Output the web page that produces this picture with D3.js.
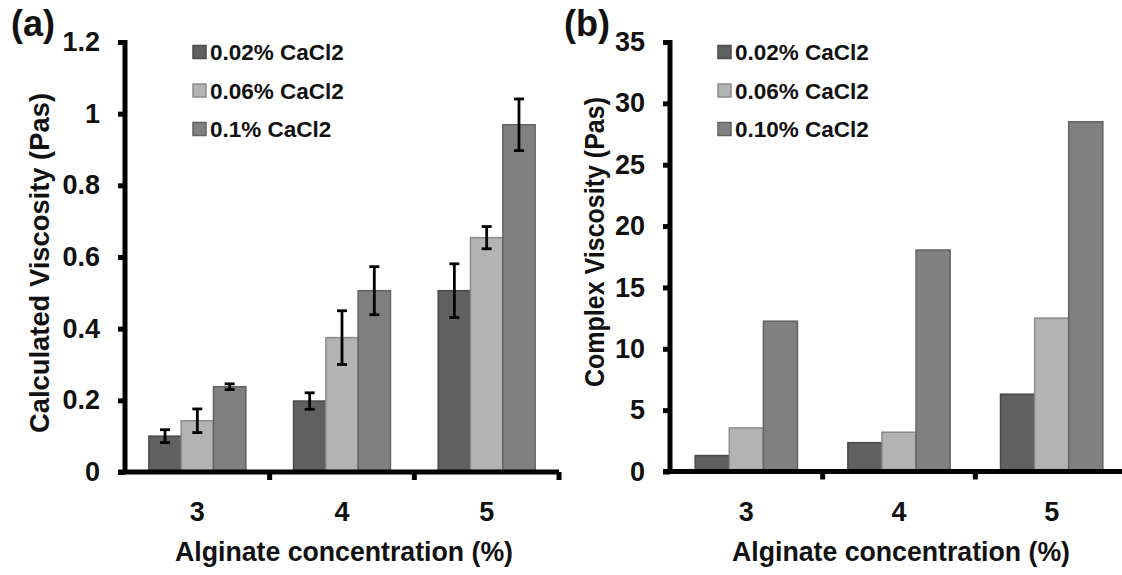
<!DOCTYPE html>
<html><head><meta charset="utf-8">
<script src="https://cdn.jsdelivr.net/npm/d3@7"></script>
<style>
html,body{margin:0;padding:0;background:#fff;}
svg{display:block;}
text{font-family:"Liberation Sans",Arial,sans-serif;font-weight:bold;fill:#111;}
</style></head>
<body>
<svg id="chart" width="1122" height="575"></svg>
<script>
// ---- data ----
const categories = ["3", "4", "5"];
const seriesA = ["0.02% CaCl2", "0.06% CaCl2", "0.1% CaCl2"];
const seriesB = ["0.02% CaCl2", "0.06% CaCl2", "0.10% CaCl2"];
const calcVisc002 = [0.10, 0.198, 0.506];
const calcVisc006 = [0.143, 0.375, 0.654];
const calcVisc010 = [0.238, 0.506, 0.969];
const calcErr002 = [0.018, 0.023, 0.075];
const calcErr006 = [0.033, 0.075, 0.031];
const calcErr010 = [0.008, 0.067, 0.072];
const complexVisc002 = [1.3, 2.35, 6.3];
const complexVisc006 = [3.55, 3.2, 12.5];
const complexVisc010 = [12.25, 18.05, 28.5];
const ticksA = [0, 0.2, 0.4, 0.6, 0.8, 1, 1.2];
const ticksB = [0, 5, 10, 15, 20, 25, 30, 35];

const fills = ["#606060", "#b3b3b3", "#808080"];
const strokes = ["#4a4a4a", "#8a8a8a", "#626262"];

const svg = d3.select("#chart");

function panel(cfg) {
  const g = svg.append("g");
  const y = d3.scaleLinear().domain([0, cfg.ymax]).range([cfg.y0, cfg.y1]);
  const x0 = d3.scaleBand().domain(categories).range([cfg.xl, cfg.xr]).paddingInner(0.33).paddingOuter(0.165);
  const x1 = d3.scaleBand().domain(d3.range(3)).range([0, x0.bandwidth()]);

  // bars
  cfg.values.forEach((vals, si) => {
    g.selectAll(null).data(vals).join("rect")
      .attr("x", (d, i) => x0(categories[i]) + x1(si))
      .attr("y", d => y(d))
      .attr("width", x1.bandwidth())
      .attr("height", d => y(0) - y(d))
      .attr("fill", fills[si])
      .attr("stroke", strokes[si])
      .attr("stroke-width", 1.5);
  });

  // error bars
  if (cfg.errors) {
    cfg.errors.forEach((errs, si) => {
      const vals = cfg.values[si];
      errs.forEach((e, i) => {
        const cx = x0(categories[i]) + x1(si) + x1.bandwidth() / 2;
        const top = y(vals[i] + e), bot = y(vals[i] - e);
        g.append("line").attr("x1", cx).attr("x2", cx).attr("y1", top).attr("y2", bot)
          .attr("stroke", "#000").attr("stroke-width", 2.8);
        [top, bot].forEach(yy => g.append("line").attr("x1", cx - 5).attr("x2", cx + 5)
          .attr("y1", yy).attr("y2", yy).attr("stroke", "#000").attr("stroke-width", 2.8));
      });
    });
  }

  // y axis
  const ya = g.append("g").attr("transform", `translate(${cfg.xl},0)`)
    .call(d3.axisLeft(y).tickValues(cfg.ticks).tickSize(7).tickSizeOuter(0).tickPadding(18)
      .tickFormat(d3.format("~g")));
  ya.select(".domain").remove();
  ya.selectAll(".tick line").attr("stroke", "#000").attr("stroke-width", 5);
  ya.selectAll(".tick text").attr("font-size", 27).attr("fill", "#111")
    .attr("font-family", "Liberation Sans, Arial, sans-serif").attr("font-weight", "bold");
  g.append("line").attr("x1", cfg.xl).attr("x2", cfg.xl).attr("y1", cfg.y1 - 2).attr("y2", cfg.y0 + 2)
    .attr("stroke", "#000").attr("stroke-width", 5);

  // x axis
  const xa = g.append("g").attr("transform", `translate(0,${cfg.y0})`)
    .call(d3.axisBottom(x0).tickSize(0).tickSizeOuter(0).tickPadding(30));
  xa.select(".domain").remove();
  xa.selectAll(".tick text").attr("font-size", 27).attr("fill", "#111")
    .attr("font-family", "Liberation Sans, Arial, sans-serif").attr("font-weight", "bold");
  g.append("line").attr("x1", cfg.xl - 7).attr("x2", Math.min(cfg.xr, 1122)).attr("y1", cfg.y0).attr("y2", cfg.y0)
    .attr("stroke", "#000").attr("stroke-width", 5);
  const bounds = categories.map((c, i) => x0(c) - x0.step() * x0.paddingInner() / 2 + x0.step()).filter(v => v <= 1122);
  g.selectAll(null).data(bounds).join("line")
    .attr("x1", d => d).attr("x2", d => d).attr("y1", cfg.y0).attr("y2", cfg.y0 + 8)
    .attr("stroke", "#000").attr("stroke-width", 5);

  // titles
  g.append("text").attr("x", cfg.xTitleX).attr("y", 561).attr("text-anchor", "middle")
    .attr("font-size", 28).attr("textLength", 338).attr("lengthAdjust", "spacingAndGlyphs")
    .text("Alginate concentration (%)");
  g.append("text").attr("transform", `translate(${cfg.yTitleX},${cfg.yTitleY}) rotate(-90)`)
    .attr("text-anchor", "middle").attr("font-size", 28)
    .attr("textLength", cfg.yTitleLen).attr("lengthAdjust", "spacingAndGlyphs")
    .text(cfg.yTitle);

  // panel label
  g.append("text").attr("x", cfg.labelX).attr("y", 36).attr("font-size", 36).text(cfg.label);

  // legend
  cfg.series.forEach((s, i) => {
    const ly = 52 + i * 38.5;
    g.append("rect").attr("x", cfg.legX).attr("y", ly - 6.5).attr("width", 13).attr("height", 13)
      .attr("fill", fills[i]).attr("stroke", strokes[i]).attr("stroke-width", 1.5);
    g.append("text").attr("x", cfg.legX + 17).attr("y", ly + 8).attr("font-size", 22.5).text(s);
  });
}

panel({
  xl: 125, xr: 559, y0: 472, y1: 42, ymax: 1.2, ticks: ticksA,
  values: [calcVisc002, calcVisc006, calcVisc010],
  errors: [calcErr002, calcErr006, calcErr010],
  series: seriesA, legX: 193,
  xTitleX: 344, yTitleX: 49, yTitleY: 263, yTitleLen: 340,
  yTitle: "Calculated Viscosity (Pas)", label: "(a)", labelX: 11
});
panel({
  xl: 670, xr: 1128, y0: 471.5, y1: 42, ymax: 35, ticks: ticksB,
  values: [complexVisc002, complexVisc006, complexVisc010],
  errors: null,
  series: seriesB, legX: 718,
  xTitleX: 901, yTitleX: 604, yTitleY: 242, yTitleLen: 290,
  yTitle: "Complex Viscosity (Pas)", label: "(b)", labelX: 564
});
</script>
</body></html>
